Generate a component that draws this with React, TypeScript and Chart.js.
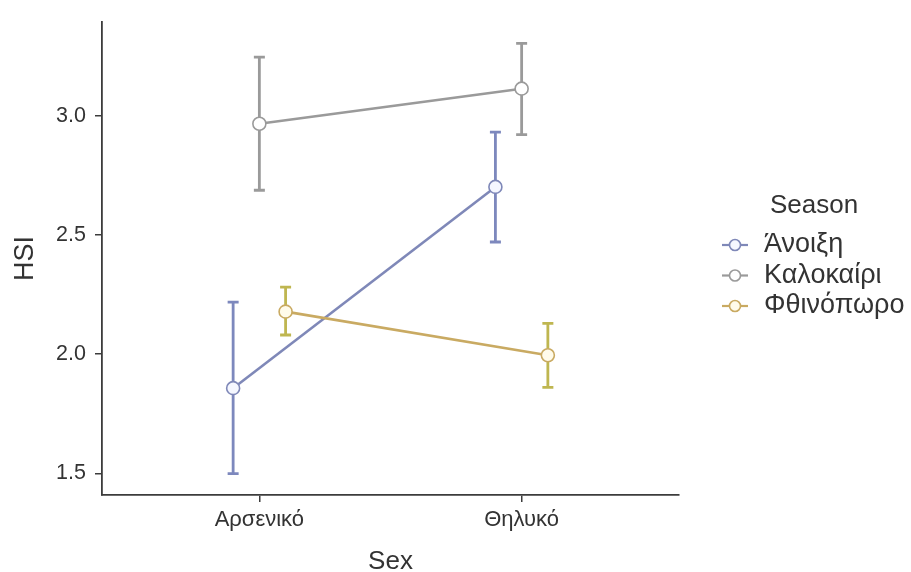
import { useEffect, useRef } from "react";
import { Chart, registerables } from "chart.js";

Chart.register(...registerables);

// Groups on the x axis and the grouping variable
const categories = ["Αρσενικό", "Θηλυκό"];
const seasons = ["Άνοιξη", "Καλοκαίρι", "Φθινόπωρο"];

// Mean HSI per sex, with lower / upper confidence limits
const springMean = [1.857, 2.701];
const springLower = [1.499, 2.47];
const springUpper = [2.218, 2.931];

const summerMean = [2.966, 3.113];
const summerLower = [2.687, 2.92];
const summerUpper = [3.245, 3.303];

const autumnMean = [2.178, 1.995];
const autumnLower = [2.08, 1.86];
const autumnUpper = [2.281, 2.129];

const yTicks = [1.5, 2.0, 2.5, 3.0];

const FONT = "'Liberation Sans', Arial, sans-serif";
const TEXT = "#333333";
const AXIS = "#3c3c3c";

const seasonStyle = [
  { line: "#7f88b8", bar: "#7d88bd", fill: "#f5f7ff" },
  { line: "#9a9a9a", bar: "#9a9a9a", fill: "#ffffff" },
  { line: "#c9aa62", bar: "#bfb650", fill: "#fffbea" },
];

// horizontal position offset so the three seasons don't overlap
const dodge = [-0.1, 0, 0.1];

const means = [springMean, summerMean, autumnMean];
const lowers = [springLower, summerLower, autumnLower];
const uppers = [springUpper, summerUpper, autumnUpper];

const errorBars = {
  id: "errorBars",
  beforeDatasetsDraw(chart: any) {
    const { ctx } = chart;
    const y = chart.scales.y;
    chart.data.datasets.forEach((ds: any, di: number) => {
      const meta = chart.getDatasetMeta(di);
      ctx.save();
      ctx.strokeStyle = ds.barColor;
      ctx.lineWidth = 2.8;
      ctx.lineCap = "butt";
      meta.data.forEach((pt: any, i: number) => {
        const x = pt.x;
        const yl = y.getPixelForValue(ds.lower[i]);
        const yu = y.getPixelForValue(ds.upper[i]);
        ctx.beginPath();
        ctx.moveTo(x, yl);
        ctx.lineTo(x, yu);
        ctx.moveTo(x - 5.5, yl);
        ctx.lineTo(x + 5.5, yl);
        ctx.moveTo(x - 5.5, yu);
        ctx.lineTo(x + 5.5, yu);
        ctx.stroke();
      });
      ctx.restore();
    });
  },
};

const seasonLegend = {
  id: "seasonLegend",
  afterDraw(chart: any) {
    const { ctx } = chart;
    ctx.save();
    ctx.fillStyle = TEXT;
    ctx.textBaseline = "middle";
    ctx.textAlign = "left";
    ctx.font = `26px ${FONT}`;
    ctx.fillText("Season", 770, 206);
    ctx.font = `27px ${FONT}`;
    seasons.forEach((name, i) => {
      const cy = 245 + i * 30.5;
      const st = seasonStyle[i];
      ctx.strokeStyle = st.line;
      ctx.lineWidth = 2.2;
      ctx.beginPath();
      ctx.moveTo(722, cy);
      ctx.lineTo(748, cy);
      ctx.stroke();
      ctx.beginPath();
      ctx.arc(735, cy, 5.5, 0, Math.PI * 2);
      ctx.fillStyle = st.fill;
      ctx.fill();
      ctx.lineWidth = 1.6;
      ctx.stroke();
      ctx.fillStyle = TEXT;
      ctx.fillText(name, 764, cy);
    });
    ctx.restore();
  },
};

export default function App() {
  const ref = useRef<HTMLCanvasElement | null>(null);

  useEffect(() => {
    if (!ref.current) return;
    const datasets = seasons.map((name, s) => ({
      label: name,
      data: categories.map((_, i) => ({ x: i + 1 + dodge[s], y: means[s][i] })),
      lower: lowers[s],
      upper: uppers[s],
      barColor: seasonStyle[s].bar,
      showLine: true,
      borderColor: seasonStyle[s].line,
      borderWidth: 2.6,
      pointRadius: 6.5,
      pointBorderWidth: 1.6,
      pointBorderColor: seasonStyle[s].line,
      pointBackgroundColor: seasonStyle[s].fill,
      order: s === 2 ? 0 : s + 1,
    }));

    const chart = new Chart(ref.current, {
      type: "scatter",
      data: { datasets } as any,
      plugins: [errorBars, seasonLegend],
      options: {
        animation: false,
        responsive: false,
        layout: { padding: { left: 0, top: 14, right: 232, bottom: 0 } },
        plugins: { legend: { display: false }, tooltip: { enabled: false } },
        scales: {
          x: {
            type: "linear",
            min: 0.4,
            max: 2.6,
            afterBuildTicks: (s: any) => {
              s.ticks = categories.map((_, i) => ({ value: i + 1 }));
            },
            afterFit: (s: any) => {
              s.height = 77;
            },
            ticks: {
              callback: (v: any) => categories[Math.round(v) - 1] ?? "",
              font: { family: FONT, size: 22 },
              color: TEXT,
              padding: 5,
              maxRotation: 0,
            },
            grid: {
              display: true,
              drawOnChartArea: false,
              drawTicks: true,
              tickLength: 7,
              color: AXIS,
              lineWidth: 1.5,
            },
            border: { display: true, color: AXIS, width: 1.8 },
            title: {
              display: true,
              text: "Sex",
              font: { family: FONT, size: 26, lineHeight: 1 },
              color: TEXT,
              padding: { top: 0, bottom: -3 },
            },
          },
          y: {
            type: "linear",
            min: 1.409,
            max: 3.393,
            afterBuildTicks: (s: any) => {
              s.ticks = yTicks.map((v) => ({ value: v }));
            },
            afterFit: (s: any) => {
              s.width = 102;
            },
            ticks: {
              callback: (v: any) => Number(v).toFixed(1),
              font: { family: FONT, size: 21.5 },
              color: TEXT,
              padding: 9,
            },
            grid: {
              display: true,
              drawOnChartArea: false,
              drawTicks: true,
              tickLength: 7,
              color: AXIS,
              lineWidth: 1.5,
            },
            border: { display: true, color: AXIS, width: 1.8 },
            title: {
              display: true,
              text: "HSI",
              font: { family: FONT, size: 27, lineHeight: 1.2 },
              color: TEXT,
              padding: { top: 9, bottom: 0 },
            },
          },
        },
      },
    });
    return () => chart.destroy();
  }, []);

  return (
    <div style={{ position: "fixed", left: 0, top: 0, width: 911, height: 572, background: "#fff" }}>
      <canvas ref={ref} width={911} height={572} />
    </div>
  );
}
